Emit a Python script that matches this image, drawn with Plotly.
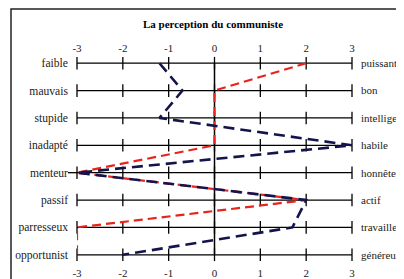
import plotly.graph_objects as go

left_labels = ["faible", "mauvais", "stupide", "inadapté", "menteur", "passif", "parresseux", "opportunist"]
right_labels = ["puissant", "bon", "intelligent", "habile", "honnête", "actif", "travailleur", "généreux"]
red_values = [2, 0, 0, 0, -3, 2, -3, -3]
navy_values = [-1.2, -0.7, -1.2, 3, -3, 2, 1.7, -2]
scale_ticks = [-3, -2, -1, 0, 1, 2, 3]

rows = list(range(len(left_labels)))
FONT = "Liberation Serif"

W, H = 404, 279
L, R, T, B = 69, 60, 47, 24
PW, PH = W - L - R, H - T - B

fig = go.Figure()

# scale rows
for r in rows:
    fig.add_trace(go.Scatter(
        x=scale_ticks, y=[r] * len(scale_ticks), mode="lines+markers",
        line=dict(color="black", width=1.3),
        marker=dict(symbol="line-ns", size=9, line=dict(color="black", width=1.3)),
        cliponaxis=False, showlegend=False, hoverinfo="skip"))

# zero axis
fig.add_trace(go.Scatter(
    x=[0, 0], y=[rows[0], rows[-1]], mode="lines",
    line=dict(color="black", width=1.5), cliponaxis=False,
    showlegend=False, hoverinfo="skip"))

fig.add_trace(go.Scatter(
    x=red_values, y=rows, mode="lines",
    line=dict(color="#e8231b", width=2.2, dash="9px,5px"),
    cliponaxis=False, showlegend=False))
fig.add_trace(go.Scatter(
    x=navy_values, y=rows, mode="lines",
    line=dict(color="#14144c", width=2.6, dash="11px,6px"),
    cliponaxis=False, showlegend=False))

# dummy for secondary axes
fig.add_trace(go.Scatter(x=[0], y=[0], xaxis="x2", yaxis="y2", mode="markers",
                         marker=dict(opacity=0), showlegend=False, hoverinfo="skip"))

menteur_row = left_labels.index("menteur")

axfont = dict(family=FONT, size=11, color="#222")
leftfont = dict(family=FONT, size=11.6, color="#222")
rightfont = dict(family=FONT, size=11, color="#222")
fig.update_layout(
    width=W, height=H,
    margin=dict(l=L, r=R, t=T, b=B, autoexpand=False),
    paper_bgcolor="white", plot_bgcolor="white",
    title=dict(text="<b>La perception du communiste</b>", x=205 / W, xanchor="center",
               y=1 - 16 / H, yanchor="middle", font=dict(family=FONT, size=11, color="black"),
               automargin=False),
    xaxis=dict(range=[-3, 3], tickvals=scale_ticks, ticktext=[str(v) for v in scale_ticks],
               showgrid=False, zeroline=False, showline=False, ticks="", automargin=False,
               tickfont=axfont, ticklabelstandoff=2),
    xaxis2=dict(range=[-3, 3], tickvals=scale_ticks, ticktext=[str(v) for v in scale_ticks],
                overlaying="x", side="top", showgrid=False, zeroline=False, showline=False,
                ticks="", tickfont=axfont, ticklabelstandoff=0, automargin=False),
    yaxis=dict(range=[7.3, -0.3], tickvals=rows, ticktext=left_labels, showgrid=False,
               zeroline=False, showline=False, ticks="", tickfont=leftfont, ticklabelstandoff=8,
               automargin=False),
    yaxis2=dict(range=[7.3, -0.3], tickvals=rows, ticktext=right_labels, overlaying="y",
                side="right", showgrid=False, zeroline=False, showline=False, ticks="",
                tickfont=rightfont, ticklabelstandoff=8, automargin=False),
    shapes=[
        dict(type="rect", xref="paper", yref="paper",
             x0=(3 - L) / PW, x1=2, y0=-1, y1=1 + (T - 1) / PH,
             line=dict(color="#222", width=1.5), fillcolor="rgba(0,0,0,0)", layer="below"),
        dict(type="line", xref="paper", yref="y",
             x0=-9 / PW, x1=0, y0=menteur_row, y1=menteur_row,
             line=dict(color="black", width=1.3)),
    ],
)

fig.write_html("out.html")
